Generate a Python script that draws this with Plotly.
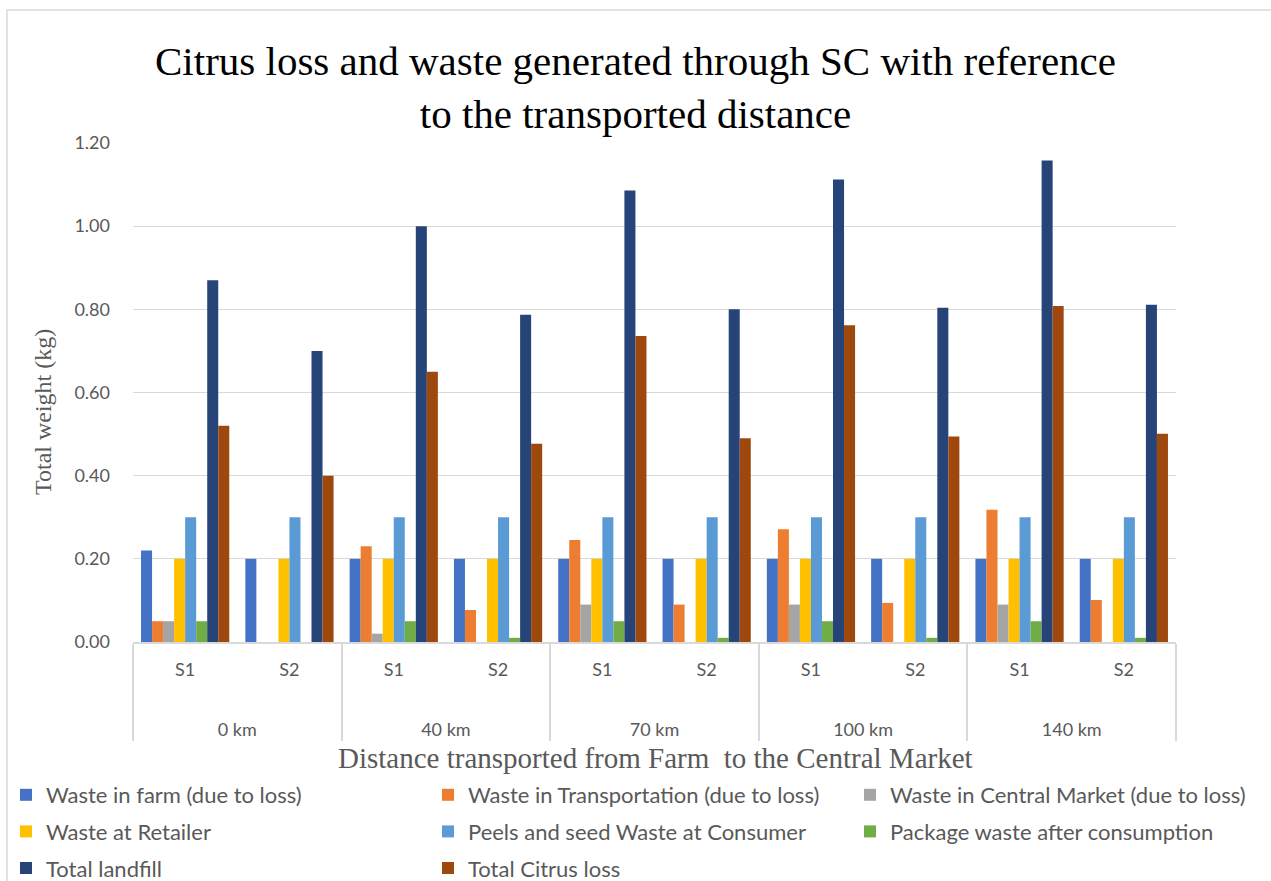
import plotly.graph_objects as go

# Categories: distance from farm to central market, and scenario
distances = ["0 km", "40 km", "70 km", "100 km", "140 km"]
scenarios = ["S1", "S2"]

# Series values (kg), ordered 0 km S1, 0 km S2, 40 km S1, ... 140 km S2
waste_farm = [0.22, 0.20, 0.20, 0.20, 0.20, 0.20, 0.20, 0.20, 0.20, 0.20]
waste_transport = [0.05, 0.00, 0.23, 0.077, 0.245, 0.09, 0.271, 0.094, 0.318, 0.101]
waste_central_market = [0.05, 0.00, 0.02, 0.00, 0.09, 0.00, 0.09, 0.00, 0.09, 0.00]
waste_retailer = [0.20, 0.20, 0.20, 0.20, 0.20, 0.20, 0.20, 0.20, 0.20, 0.20]
peels_seed_consumer = [0.30, 0.30, 0.30, 0.30, 0.30, 0.30, 0.30, 0.30, 0.30, 0.30]
package_waste = [0.05, 0.00, 0.05, 0.01, 0.05, 0.01, 0.05, 0.01, 0.05, 0.01]
total_landfill = [0.87, 0.70, 1.00, 0.787, 1.086, 0.80, 1.112, 0.804, 1.158, 0.811]
total_citrus_loss = [0.52, 0.40, 0.65, 0.477, 0.736, 0.49, 0.762, 0.494, 0.808, 0.501]

# Two-level category axis; the inner label carries blank extra lines
# so the distance row sits lower, as in a spreadsheet-style chart.
outer = [d for d in distances for _ in scenarios]
inner = [s + "<br>\u00a0<br>\u00a0" for _ in distances for s in scenarios]

series = [
    ("Waste in farm (due to loss)", waste_farm, "#4472C4", "legend"),
    ("Waste in Transportation (due to loss)", waste_transport, "#ED7D31", "legend2"),
    ("Waste in Central Market (due to loss)", waste_central_market, "#A5A5A5", "legend3"),
    ("Waste at Retailer", waste_retailer, "#FFC000", "legend"),
    ("Peels and seed Waste at Consumer", peels_seed_consumer, "#5B9BD5", "legend2"),
    ("Package waste after consumption", package_waste, "#70AD47", "legend3"),
    ("Total landfill", total_landfill, "#264478", "legend"),
    ("Total Citrus loss", total_citrus_loss, "#9E480E", "legend2"),
]

fig = go.Figure()
for i, (name, vals, color, leg) in enumerate(series):
    fig.add_trace(go.Bar(
        x=[outer, inner], y=vals, name=name,
        marker=dict(color=color, line=dict(width=0)),
        legend=leg, legendgroup=f"g{i}",
    ))

GRID = "#d9d9d9"
TXT = "#595959"
SANS = "Lato, 'Open Sans', sans-serif"
SERIF = "'Liberation Serif', 'DejaVu Serif', serif"

W, H = 1271, 881
L, R, T, B = 133, 95, 143, 239
pw, ph = W - L - R, H - T - B


def px_x(px):
    """Pixel column -> paper x."""
    return (px - L) / pw


def px_y(py):
    """Pixel row (from top) -> paper y."""
    return (H - B - py) / ph


legend_common = dict(
    xref="container", yref="container", xanchor="left", yanchor="top",
    orientation="v", traceorder="grouped", tracegroupgap=5,
    font=dict(family=SANS, size=22, color=TXT), bgcolor="rgba(0,0,0,0)",
    itemwidth=30,
)

fig.update_layout(
    width=W, height=H,
    margin=dict(l=L, r=R, t=T, b=B, autoexpand=False),
    paper_bgcolor="white", plot_bgcolor="white",
    barmode="group", bargap=0.154, bargroupgap=0,
    title=dict(
        text="Citrus loss and waste generated through SC with reference<br>to the transported distance",
        font=dict(family=SERIF, size=41, color="black"),
        x=0.5, xref="container", xanchor="center",
        y=1 - 75 / H, yref="container", yanchor="middle",
    ),
    yaxis=dict(
        range=[0, 1.2], dtick=0.2, tickformat=".2f",
        showgrid=True, gridcolor=GRID, gridwidth=1.3,
        zeroline=False, showline=False, ticks="",
        ticklabelstandoff=22,
        tickfont=dict(family=SANS, size=18, color=TXT),
        automargin=False,
    ),
    xaxis=dict(
        showgrid=False, zeroline=False,
        showline=True, linecolor=GRID, linewidth=1.5,
        showdividers=True, dividercolor=GRID, dividerwidth=1.5,
        ticks="", ticklabelstandoff=11,
        tickfont=dict(family=SANS, size=18, color=TXT),
        tickangle=0, automargin=False,
    ),
    annotations=[
        dict(text="Total weight (kg)", textangle=-90,
             xref="paper", yref="paper", x=px_x(43), y=px_y(412),
             xanchor="center", yanchor="middle", showarrow=False,
             font=dict(family=SERIF, size=24, color=TXT)),
        dict(text="Distance transported from Farm\u00a0 to the Central Market",
             xref="paper", yref="paper", x=px_x(655), y=px_y(758),
             xanchor="center", yanchor="middle", showarrow=False,
             font=dict(family=SERIF, size=29, color=TXT)),
    ],
    legend=dict(x=6 / W, y=1 - 774 / H, **legend_common),
    legend2=dict(x=428 / W, y=1 - 774 / H, **legend_common),
    legend3=dict(x=850 / W, y=1 - 774 / H, **legend_common),
    shapes=[dict(
        type="rect", xref="paper", yref="paper",
        x0=px_x(7), x1=1.3, y0=-1.0, y1=px_y(10),
        line=dict(color=GRID, width=1.5), fillcolor="rgba(0,0,0,0)", layer="below",
    )],
)

fig.write_html("out.html")
